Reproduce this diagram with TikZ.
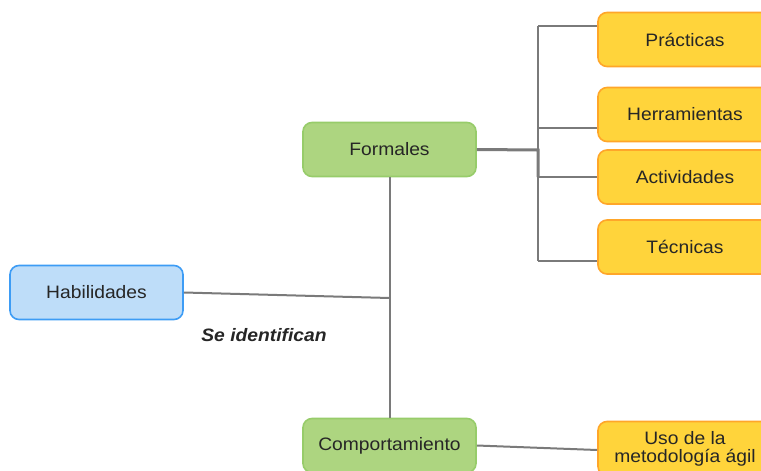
\documentclass[tikz,border=0pt]{standalone}
\usepackage{fontspec}
\setmainfont[FakeStretch=1.07]{Liberation Sans}
\definecolor{bluefill}{HTML}{BEDDF9}
\definecolor{blueline}{HTML}{3D9CF5}
\definecolor{greenfill}{HTML}{ADD580}
\definecolor{greenline}{HTML}{97CC6A}
\definecolor{orangefill}{HTML}{FFD43B}
\definecolor{orangeline}{HTML}{FFA629}
\definecolor{wire}{HTML}{7A7A7A}
\definecolor{ink}{HTML}{262626}
\tikzset{
  box/.style={rectangle, rounded corners=9pt, line width=1.6pt,
    minimum width=173pt, minimum height=54pt, inner sep=2pt,
    text=ink, align=center, font=\fontsize{18}{21}\selectfont},
  bluebox/.style={box, fill=bluefill, draw=blueline},
  greenbox/.style={box, fill=greenfill, draw=greenline},
  orangebox/.style={box, fill=orangefill, draw=orangeline, minimum width=174pt},
  link/.style={draw=wire, line width=2pt},
  boldlink/.style={draw=wire, line width=3pt}
}
\begin{document}
\begin{tikzpicture}[x=1pt, y=-1pt]
  \useasboundingbox (0,0) rectangle (761,471);
  \clip (0,0) rectangle (761,471);
  \fill[white] (0,0) rectangle (761,471);

  % boxes
  \node[bluebox]   (hab)  at (96.5,292.5) {Habilidades};
  \node[greenbox]  (form) at (389.5,149.5) {Formales};
  \node[greenbox]  (comp) at (389.5,445.5) {Comportamiento};
  \node[orangebox] (prac) at (685,39.5)  {Prácticas};
  \node[orangebox] (herr) at (685,114.5) {Herramientas};
  \node[orangebox] (acti) at (685,177)   {Actividades};
  \node[orangebox] (tecn) at (685,247)   {Técnicas};
  \node[orangebox] (uso)  at (685,448.5) {Uso de la\\[-3pt]metodología ágil};

  % branch points
  \coordinate (join) at (389.5,298);
  \coordinate (bus)  at (538,150);
  \coordinate (b1)   at (538,26);
  \coordinate (b2)   at (538,128);
  \coordinate (b3)   at (538,177);
  \coordinate (b4)   at (538,261);

  % trunk between Formales and Comportamiento
  \path[link] (form.south) -- (comp.north);
  \path[link] (hab.east) -- (join);

  % Formales to its four parts
  \path[boldlink] (form.east) -- (bus) -- (b3);
  \path[link] (b1) -- (b4);
  \path[link] (b1) -- (b1 -| prac.west);
  \path[link] (b2) -- (b2 -| herr.west);
  \path[link] (b3) -- (b3 -| acti.west);
  \path[link] (b4) -- (b4 -| tecn.west);

  % Comportamiento to its use
  \path[link] (comp.east) -- ([yshift=-1.5pt]uso.west);

  % edge label
  \node[text=ink, font=\fontsize{18}{21}\selectfont\bfseries\itshape] (lbl) at (264,335) {Se identifican};
\end{tikzpicture}
\end{document}
